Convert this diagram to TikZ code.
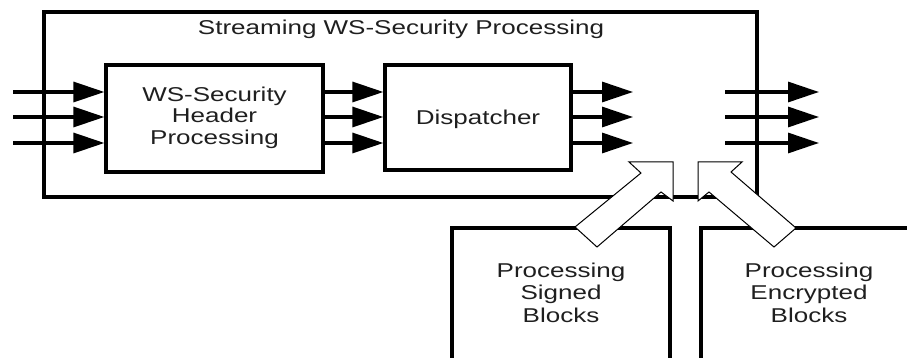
\documentclass[tikz,border=0pt]{standalone}
\usepackage{fontspec}
\setmainfont{Liberation Sans}
\usepackage{graphicx}
\usetikzlibrary{arrows.meta}
\newcommand\wtext[1]{\scalebox{1.3}[1]{#1}}
\newcommand\wstack[1]{\scalebox{1.3}[1]{\begin{tabular}{@{}c@{}}#1\end{tabular}}}
\begin{document}
\begin{tikzpicture}[x=1pt,y=-1pt,
  box/.style={draw, line width=3.2pt, inner sep=0pt},
  conn/.style={line width=3.2pt, -{Triangle[length=31pt,width=20pt]}},
  hollow/.style={draw, line width=1pt, fill=white, line join=miter},
  lbl/.style={inner sep=0pt, text=black!88, font=\fontsize{20}{21.5}\selectfont},
  lbl2/.style={inner sep=0pt, text=black!88, font=\fontsize{20}{22.5}\selectfont}]
\useasboundingbox (0,0) rectangle (907,358);
\clip (0,0) rectangle (907,358);
% boxes
\node[box, minimum width=713pt, minimum height=185pt] (outer) at (400.5,104.5) {};
\node[box, minimum width=217pt, minimum height=107pt] (hdr) at (214.5,118.5) {};
\node[box, minimum width=186pt, minimum height=105pt] (dsp) at (478,117.5) {};
\node[box, minimum width=218pt, minimum height=192pt] (lbl) at (561,324) {};
\node[box, minimum width=299pt, minimum height=192pt] (lbr) at (850.5,324) {};
% row coordinates
\coordinate (i1) at (13,92);  \coordinate (i2) at (13,117);  \coordinate (i3) at (13,143);
\coordinate (o1) at (633,92); \coordinate (o2) at (633,117); \coordinate (o3) at (633,143);
\coordinate (p1) at (725,92); \coordinate (p2) at (725,117); \coordinate (p3) at (725,143);
\coordinate (q1) at (819,92); \coordinate (q2) at (819,117); \coordinate (q3) at (819,143);
% connectors
\foreach \k in {1,2,3}{
  \draw[conn] (i\k) -- (hdr.west |- i\k);
  \draw[conn] (hdr.east |- i\k) -- (dsp.west |- i\k);
  \draw[conn] (dsp.east |- i\k) -- (o\k);
  \draw[conn] (p\k) -- (q\k);
}
% hollow arrows
\draw[hollow] (673,162) -- (629,162) -- (641,173) -- (575,227) -- (597,247) -- (661,192) -- (673,201) -- cycle;
\draw[hollow] (698,162) -- (742,162) -- (731,172) -- (796,228) -- (774,247) -- (709,192) -- (698,201) -- cycle;
% texts
\node[lbl, anchor=base] (title) at (401,35) {\wtext{Streaming WS-Security Processing}};
\node[lbl] (hdrtext) at (hdr.center) {\wstack{WS-Security\\Header\\Processing}};
\node[lbl, anchor=base] (dsptext) at (478,125) {\wtext{Dispatcher}};
\node[lbl2] (lbltext) at (561,295) {\wstack{Processing\\Signed\\Blocks}};
\node[lbl2] (lbrtext) at (809,295) {\wstack{Processing\\Encrypted\\Blocks}};
\end{tikzpicture}
\end{document}
